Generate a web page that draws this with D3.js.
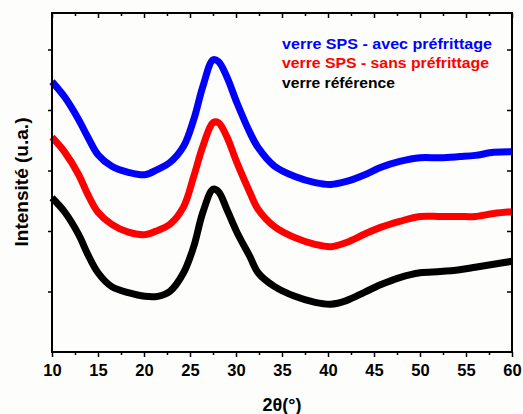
<!DOCTYPE html>
<html>
<head>
<meta charset="utf-8">
<script src="https://cdn.jsdelivr.net/npm/d3@7"></script>
<style>
	body { margin: 0; background: #fdfdfb; }
	text { font-family: "Liberation Sans", Arial, sans-serif; font-weight: bold; }
</style>
</head>
<body>
<div id="chart"></div>
<script>
// 2theta values (deg) shared by the three patterns
var twoTheta = [10, 11.4, 12.9, 13.9, 15, 16.5, 18.3, 20.1, 21.5, 22.8, 24.3, 25.4, 26.4, 27.5, 28.1, 29, 30.1, 31.5, 32.4, 34.2, 36.4, 38.6, 40.3, 42, 44, 45.7, 47.8, 50, 52.2, 54.3, 56, 58, 60];

// intensities (u.a.)
var avecPre = [4.47, 4.21, 3.84, 3.55, 3.26, 3.07, 2.97, 2.93, 3.02, 3.13, 3.40, 3.84, 4.39, 4.83, 4.80, 4.55, 4.12, 3.63, 3.38, 3.07, 2.90, 2.80, 2.77, 2.82, 2.93, 3.05, 3.15, 3.21, 3.21, 3.23, 3.25, 3.30, 3.31];
var sansPre = [3.55, 3.30, 2.93, 2.60, 2.31, 2.11, 1.98, 1.94, 2.01, 2.11, 2.40, 2.90, 3.40, 3.79, 3.79, 3.56, 3.13, 2.64, 2.36, 2.07, 1.89, 1.78, 1.74, 1.81, 1.95, 2.06, 2.16, 2.24, 2.24, 2.24, 2.24, 2.29, 2.32];
var reference = [2.55, 2.31, 1.94, 1.61, 1.31, 1.08, 0.98, 0.92, 0.92, 1.00, 1.31, 1.74, 2.31, 2.69, 2.65, 2.36, 1.98, 1.58, 1.31, 1.08, 0.92, 0.82, 0.79, 0.85, 0.99, 1.11, 1.23, 1.31, 1.33, 1.36, 1.40, 1.45, 1.50];

var seriesNames = ["verre SPS - avec préfrittage", "verre SPS - sans préfrittage", "verre référence"];
var seriesColors = ["#0000ff", "#ff0000", "#000000"];
var xTicks = [10, 15, 20, 25, 30, 35, 40, 45, 50, 55, 60];
var yTicks = [1, 2, 3, 4, 5];

var margin = {top: 13, right: 11, bottom: 62, left: 52};
var width = 523 - margin.left - margin.right;
var height = 414 - margin.top - margin.bottom;

var svg = d3.select("div#chart").append("svg")
	.attr("width", width + margin.left + margin.right)
	.attr("height", height + margin.top + margin.bottom);

var g = svg.append("g")
	.attr("transform", "translate(" + margin.left + "," + margin.top + ")");

var x = d3.scaleLinear().domain([10, 60]).range([0, width]);
var y = d3.scaleLinear().domain([0, height / 60.5]).range([height, 0]);

// curves
var line = d3.line()
	.x(d => x(d[0]))
	.y(d => y(d[1]))
	.curve(d3.curveCatmullRom.alpha(0.5));

[avecPre, sansPre, reference].forEach(function(vals, i){
	g.append("path")
		.datum(twoTheta.map((t, j) => [t, vals[j]]))
		.attr("fill", "none")
		.attr("stroke", seriesColors[i])
		.attr("stroke-width", 7)
		.attr("stroke-linejoin", "round")
		.attr("d", line);
});

// axes
var minor = d3.range(12.5, 60, 5);
var gx = g.append("g").attr("transform", "translate(0," + height + ")")
	.call(d3.axisBottom(x).tickValues(xTicks).tickSize(5).tickPadding(7).tickFormat(d3.format("d")));
gx.select(".domain").remove();
gx.selectAll("text")
	.attr("font-size", 16.5)
	.attr("font-weight", "bold")
	.attr("fill", "#000")
	.style("font-family", "Liberation Sans, Arial, sans-serif");
gx.selectAll("line").attr("stroke-width", 1.5);
g.append("g").attr("transform", "translate(0," + height + ")")
	.call(d3.axisBottom(x).tickValues(minor).tickSize(3).tickFormat(""))
	.call(s => s.select(".domain").remove())
	.selectAll("line").attr("stroke-width", 1.5);

// top mirror ticks (inward)
g.append("g")
	.call(d3.axisBottom(x).tickValues(xTicks).tickSize(5).tickFormat(""))
	.call(s => s.select(".domain").remove())
	.selectAll("line").attr("stroke-width", 1.5);
g.append("g")
	.call(d3.axisBottom(x).tickValues(minor).tickSize(3).tickFormat(""))
	.call(s => s.select(".domain").remove())
	.selectAll("line").attr("stroke-width", 1.5);

// left ticks (outward), right ticks (inward)
g.append("g")
	.call(d3.axisLeft(y).tickValues(yTicks).tickSize(4).tickFormat(""))
	.call(s => s.select(".domain").remove())
	.selectAll("line").attr("stroke-width", 1.5);
g.append("g").attr("transform", "translate(" + width + ",0)")
	.call(d3.axisLeft(y).tickValues(yTicks).tickSize(5).tickFormat(""))
	.call(s => s.select(".domain").remove())
	.selectAll("line").attr("stroke-width", 1.5);

// frame
g.append("rect")
	.attr("width", width)
	.attr("height", height)
	.attr("fill", "none")
	.attr("stroke", "#000")
	.attr("stroke-width", 2);

// axis titles
svg.append("text")
	.attr("x", 282)
	.attr("y", 411)
	.attr("text-anchor", "middle")
	.attr("font-size", 18)
	.text("2θ(°)");

svg.append("text")
	.attr("transform", "translate(28,182) rotate(-90)")
	.attr("text-anchor", "middle")
	.attr("font-size", 18)
	.attr("textLength", 129)
	.attr("lengthAdjust", "spacingAndGlyphs")
	.text("Intensité (u.a.)");

// legend
var legendWidths = [210, 207, 113];
seriesNames.forEach(function(name, i){
	svg.append("text")
		.attr("x", 282)
		.attr("y", 48.5 + i * 19.5)
		.attr("font-size", 14.5)
		.attr("fill", seriesColors[i])
		.attr("textLength", legendWidths[i])
		.attr("lengthAdjust", "spacingAndGlyphs")
		.text(name);
});
</script>
</body>
</html>
